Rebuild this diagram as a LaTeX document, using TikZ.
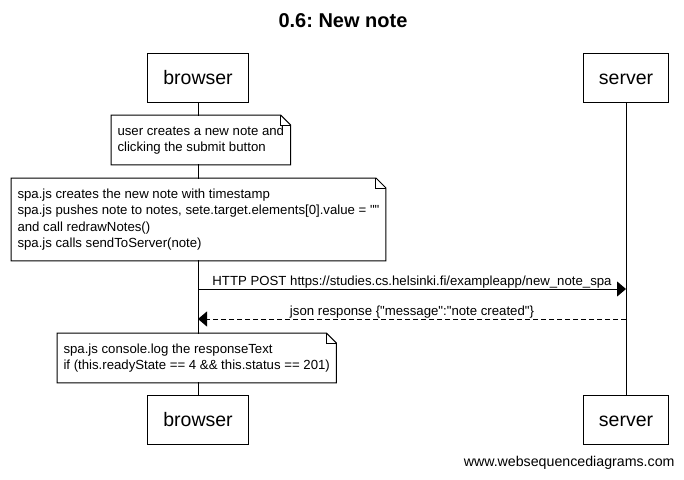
\documentclass[tikz,border=0pt]{standalone}
\usepackage{fontspec}
\setmainfont{Liberation Sans}
\usetikzlibrary{positioning,arrows.meta}
\frenchspacing

\begin{document}
\begin{tikzpicture}[x=1pt,y=-1pt,line width=1pt,
  actor/.style={draw,fill=white,inner xsep=15.5pt,minimum height=49pt,text height=13.5pt,text depth=0pt,font=\fontsize{19.5}{22}\selectfont},
  notetext/.style={anchor=north west,fill=white,align=left,inner xsep=6pt,inner ysep=10pt,font=\fontsize{13.2}{16.5}\selectfont},
  msg/.style={-{Triangle[length=9pt,width=15pt]}},
  msglabel/.style={anchor=base,yshift=3.8pt,inner sep=0pt,font=\fontsize{13.2}{15}\selectfont}]
\useasboundingbox (0,0) rectangle (684,479);
\node[font=\bfseries\fontsize{20}{24}\selectfont] (title) at (343,21) {0.6: New note};
% participants, top and bottom
\node[actor] (btop) at (198,77.5) {browser}; \node[actor] (stop) at (626,77.5) {server};
\node[actor] (bbot) at (198,419.5) {browser}; \node[actor] (sbot) at (626,419.5) {server};
\draw (btop) -- (bbot); \draw (stop) -- (sbot);
% notes
\node[notetext] (n1) at (111,115) {user creates a new note and\\clicking the submit button};
\node[notetext] (n2) at (11,178) {spa.js creates the new note with timestamp\\spa.js pushes note to notes, sete.target.elements[0].value = \textquotedbl\textquotedbl\\and call redrawNotes()\\spa.js calls sendToServer(note)};
\node[notetext] (n3) at (57,333) {spa.js console.log the responseText\\if (this.readyState == 4 \&\& this.status == 201)};
\foreach \n in {n1,n2,n3} {
  \draw (\n.north west) -- ([xshift=-10pt]\n.north east) -- ([yshift=-10pt]\n.north east) -- (\n.south east) -- (\n.south west) -- cycle;
  \draw ([xshift=-10pt]\n.north east) |- ([yshift=-10pt]\n.north east);
}
% messages
\coordinate (b1) at (198,289); \coordinate (s1) at (626,289);
\coordinate (b2) at (198,319); \coordinate (s2) at (626,319);
\draw[msg] (b1) -- node[msglabel] (m1) {HTTP POST https://studies.cs.helsinki.fi/exampleapp/new\_note\_spa} (s1);
\draw[msg,dash pattern=on 5pt off 3pt] (s2) -- node[msglabel] (m2) {json response \{\textquotedbl message\textquotedbl:\textquotedbl note created\textquotedbl\}} (b2);
\node[anchor=east,inner sep=0pt,font=\fontsize{14.2}{17}\selectfont] (site) at (675,463) {www.websequencediagrams.com};
\end{tikzpicture}
\end{document}
